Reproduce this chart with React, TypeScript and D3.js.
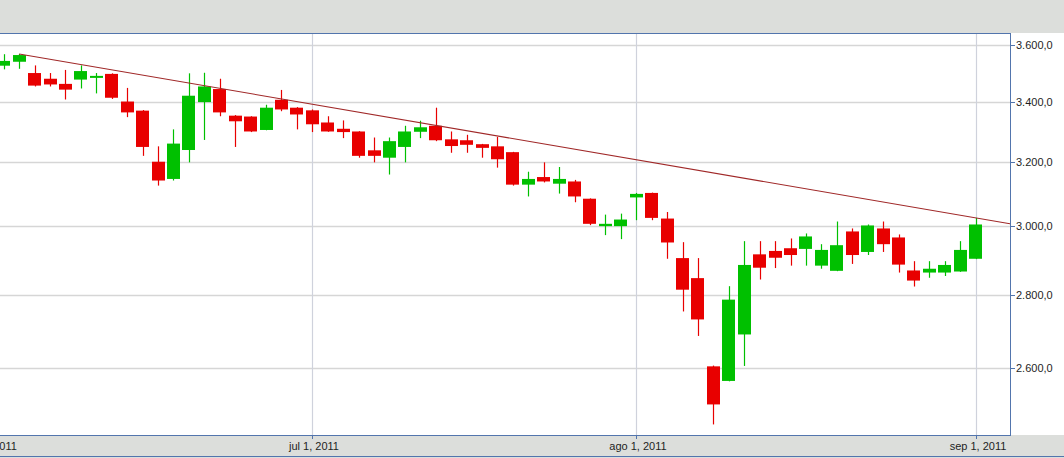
import React from 'react';
import * as d3 from 'd3';

// Trading calendar (first session only used to anchor the axis)
const calendar = [
  '2011-06-01',
  '2011-06-02', '2011-06-03', '2011-06-06', '2011-06-07', '2011-06-08', '2011-06-09', '2011-06-10',
  '2011-06-13', '2011-06-14', '2011-06-15', '2011-06-16', '2011-06-17', '2011-06-21', '2011-06-22',
  '2011-06-23', '2011-06-24', '2011-06-27', '2011-06-28', '2011-06-29', '2011-06-30',
  '2011-07-01', '2011-07-04', '2011-07-05', '2011-07-06', '2011-07-07', '2011-07-08', '2011-07-11',
  '2011-07-12', '2011-07-13', '2011-07-14', '2011-07-15', '2011-07-18', '2011-07-19', '2011-07-20',
  '2011-07-21', '2011-07-22', '2011-07-25', '2011-07-26', '2011-07-27', '2011-07-28', '2011-07-29',
  '2011-08-01', '2011-08-02', '2011-08-03', '2011-08-04', '2011-08-05', '2011-08-08', '2011-08-09',
  '2011-08-10', '2011-08-11', '2011-08-12', '2011-08-15', '2011-08-16', '2011-08-17', '2011-08-18',
  '2011-08-19', '2011-08-23', '2011-08-24', '2011-08-25', '2011-08-26', '2011-08-29', '2011-08-30',
  '2011-08-31', '2011-09-01',
];

const dates = calendar.slice(1);

const opens = [
  3526, 3540, 3500, 3480, 3462, 3477, 3485, 3497, 3401, 3370, 3201, 3146, 3239, 3399, 3444, 3353,
  3350, 3305, 3407, 3380, 3371, 3330, 3309, 3300, 3238, 3214, 3249, 3299, 3319, 3274, 3271, 3258,
  3251, 3232, 3128, 3152, 3131, 3138, 3084, 3000, 3000, 3088, 3102, 3023, 2905, 2847, 2605, 2567,
  2690, 2916, 2926, 2934, 2932, 2883, 2868, 2984, 2923, 2993, 2966, 2869, 2863, 2863, 2866, 2903,
];
const highs = [
  3567, 3568, 3527, 3500, 3511, 3527, 3500, 3499, 3448, 3372, 3251, 3307, 3499, 3501, 3480, 3355,
  3351, 3390, 3441, 3382, 3374, 3351, 3337, 3301, 3280, 3280, 3319, 3336, 3380, 3300, 3289, 3259,
  3282, 3233, 3169, 3199, 3184, 3143, 3085, 3035, 3038, 3102, 3103, 3043, 2952, 2905, 2607, 2824,
  2955, 2955, 2955, 2963, 2978, 2946, 3014, 2993, 3005, 3014, 2975, 2896, 2896, 2896, 2955, 3025,
];
const lows = [
  3513, 3515, 3453, 3453, 3408, 3446, 3429, 3410, 3348, 3220, 3125, 3141, 3199, 3272, 3351, 3249,
  3298, 3304, 3368, 3307, 3298, 3299, 3278, 3214, 3199, 3160, 3199, 3278, 3268, 3230, 3230, 3214,
  3182, 3125, 3091, 3135, 3100, 3073, 3003, 2973, 2961, 3018, 3018, 2903, 2753, 2686, 2457, 2566,
  2606, 2843, 2876, 2883, 2883, 2874, 2867, 2888, 2914, 2923, 2863, 2823, 2848, 2853, 2865, 2902,
];
const closes = [
  3543, 3564, 3456, 3460, 3442, 3507, 3490, 3414, 3364, 3249, 3141, 3260, 3421, 3453, 3364, 3334,
  3300, 3380, 3374, 3357, 3324, 3300, 3298, 3220, 3220, 3268, 3300, 3314, 3271, 3252, 3256, 3246,
  3209, 3128, 3146, 3138, 3146, 3091, 3007, 3007, 3020, 3099, 3025, 2951, 2814, 2731, 2507, 2786,
  2885, 2877, 2906, 2914, 2969, 2929, 2943, 2914, 3002, 2946, 2886, 2840, 2874, 2885, 2929, 3005,
];

const yTicks = [2600, 2800, 3000, 3200, 3400, 3600];
const xTickDates = ['2011-06-01', '2011-07-01', '2011-08-01', '2011-09-01'];
const xTickLabels = ['jun 1, 2011', 'jul 1, 2011', 'ago 1, 2011', 'sep 1, 2011'];

// trend line anchored on two candle highs
const trendFrom = '2011-06-03';
const trendTo = '2011-09-01';

const W = 1064;
const H = 458;
const plot = { left: 0, right: 1010, top: 33, bottom: 435 };

const GREEN = '#00c000';
const RED = '#e80000';
const GRAY_BG = '#dcdedb';
const BORDER = '#5275ad';
const GRID = '#d6d6d6';
const VGRID = '#cfd2dc';
const FONT = "'Liberation Sans', Arial, sans-serif";

const locale = d3.formatLocale({ decimal: ',', thousands: '.', grouping: [3], currency: ['', ''] });
const fmt = locale.format(',.1f');

export default function App() {
  const x = d3.scalePoint<string>().domain(calendar).range([-11.7, 975.7]);
  const y = d3.scaleLog().domain([2431, 3644]).range([plot.bottom, plot.top]);
  const bodyW = 13;

  const candles = dates.map((d, i) => ({
    d,
    o: opens[i],
    h: highs[i],
    l: lows[i],
    c: closes[i],
  }));

  const i1 = dates.indexOf(trendFrom);
  const i2 = dates.indexOf(trendTo);
  const tx1 = x(trendFrom)!;
  const ty1 = y(highs[i1]);
  const tx2 = x(trendTo)!;
  const ty2 = y(highs[i2]);
  const slope = (ty2 - ty1) / (tx2 - tx1);
  const tEndX = plot.right;
  const tEndY = ty1 + slope * (tEndX - tx1);

  return (
    <svg
      width={W}
      height={H}
      style={{ position: 'absolute', left: 0, top: 0, display: 'block' }}
      fontFamily={FONT}
    >
      <defs>
        <clipPath id="plotClip">
          <rect x={plot.left} y={plot.top} width={plot.right - plot.left} height={plot.bottom - plot.top} />
        </clipPath>
      </defs>
      <rect x={0} y={0} width={W} height={H} fill="#ffffff" />
      <rect x={0} y={0} width={W} height={plot.top} fill={GRAY_BG} />
      <rect x={0} y={plot.bottom} width={W} height={H - plot.bottom} fill={GRAY_BG} />

      {/* grid */}
      <g clipPath="url(#plotClip)">
        {yTicks.map((t) => (
          <line
            key={t}
            x1={plot.left}
            x2={plot.right}
            y1={Math.round(y(t)) + 0.5}
            y2={Math.round(y(t)) + 0.5}
            stroke={GRID}
            strokeWidth={1.3}
          />
        ))}
        {xTickDates.map((d) => (
          <line
            key={d}
            x1={Math.round(x(d)!) + 0.5}
            x2={Math.round(x(d)!) + 0.5}
            y1={plot.top}
            y2={plot.bottom}
            stroke={VGRID}
            strokeWidth={1.2}
          />
        ))}

        {/* candles */}
        {candles.map((k) => {
          const cx = x(k.d)!;
          const up = k.c >= k.o;
          const col = up ? GREEN : RED;
          const top = y(Math.max(k.o, k.c));
          const bot = y(Math.min(k.o, k.c));
          const bh = Math.max(2, bot - top);
          const wx = Math.round(cx) + 0.5;
          return (
            <g key={k.d}>
              <line x1={wx} x2={wx} y1={y(k.h)} y2={y(k.l)} stroke={col} strokeWidth={1.2} />
              <rect x={Math.round(cx - bodyW / 2)} y={top} width={bodyW} height={bh} fill={col} />
            </g>
          );
        })}

        {/* trend line */}
        <line x1={tx1} y1={ty1} x2={tEndX} y2={tEndY} stroke="#a02828" strokeWidth={1.1} />
      </g>

      {/* borders */}
      <line x1={0} x2={plot.right} y1={plot.top + 0.5} y2={plot.top + 0.5} stroke={BORDER} strokeWidth={1} />
      <line x1={plot.right + 0.5} x2={plot.right + 0.5} y1={plot.top} y2={plot.bottom + 1} stroke={BORDER} strokeWidth={1} />
      <line x1={0} x2={plot.right + 1} y1={plot.bottom + 0.5} y2={plot.bottom + 0.5} stroke={BORDER} strokeWidth={1} />
      <line x1={0} x2={W} y1={H - 1.5} y2={H - 1.5} stroke={BORDER} strokeWidth={1} />

      {/* y axis */}
      {yTicks.map((t) => {
        const ty = Math.round(y(t)) + 0.5;
        return (
          <g key={t}>
            <line x1={plot.right} x2={plot.right + 5} y1={ty} y2={ty} stroke={BORDER} strokeWidth={1} />
            <text x={plot.right + 6} y={ty} dy="0.35em" fontSize={11} fill="#1e1e1e">
              {fmt(t)}
            </text>
          </g>
        );
      })}

      {/* x axis */}
      {xTickDates.map((d, i) => {
        const tx = Math.round(x(d)!) + 0.5;
        return (
          <g key={d}>
            <line x1={tx} x2={tx} y1={plot.bottom} y2={plot.bottom + 4} stroke={BORDER} strokeWidth={1} />
            <text x={tx + 1.5} y={449.5} textAnchor="middle" fontSize={11} fill="#1e1e1e">
              {xTickLabels[i]}
            </text>
          </g>
        );
      })}
    </svg>
  );
}
